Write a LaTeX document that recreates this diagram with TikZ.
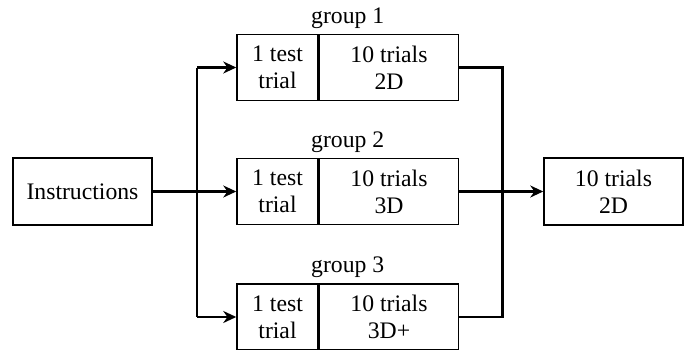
\documentclass[tikz,border=0pt]{standalone}
\usepackage{fontspec}
\setmainfont{Liberation Serif}
\usetikzlibrary{positioning,calc,arrows.meta}

\begin{document}
\begin{tikzpicture}[x=1pt,y=-1pt,font=\fontsize{23.7}{27}\selectfont,
		box/.style={draw=black,line width=1.5pt,align=center,minimum height=66pt,inner sep=0pt},
		link/.style={line width=2.5pt},
		arr/.style={link,-{Stealth[length=13pt,width=12pt]}},
		grp/.style={inner sep=0pt,above=5pt}]
		\useasboundingbox (0,0) rectangle (686,349);
		\node[box,minimum width=139pt,minimum height=67pt] (instr) at (82.5,191.5) {Instructions};
		
		\node[box,minimum width=81pt] (te1) at (277.5,67.5) {1 test\\trial};
		\node[box,minimum width=139pt,anchor=west] (tr1) at (te1.east) {10 trials\\2D};
		\node[box,minimum width=81pt] (te2) at (277.5,191.5) {1 test\\trial};
		\node[box,minimum width=139pt,anchor=west] (tr2) at (te2.east) {10 trials\\3D};
		\node[box,minimum width=81pt] (te3) at (277.5,317) {1 test\\trial};
		\node[box,minimum width=139pt,anchor=west] (tr3) at (te3.east) {10 trials\\3D+};
		
		\coordinate (g1) at ($(te1.north west)!0.5!(tr1.north east)$);
		\coordinate (g2) at ($(te2.north west)!0.5!(tr2.north east)$);
		\coordinate (g3) at ($(te3.north west)!0.5!(tr3.north east)$);
		\node[grp] (lab1) at (g1) {group 1};
		\node[grp] (lab2) at (g2) {group 2};
		\node[grp] (lab3) at (g3) {group 3};
		
		\node[box,minimum width=139pt,minimum height=67pt] (final) at (613.5,191.5) {10 trials\\2D};
		
		% left fork
		\coordinate[shift={(44,0)}] (ls) at (instr.east);
		\draw[link] (ls |- te1.west)--(ls |- te3.west);
		\draw[arr] (instr.east)--(te2.west);
		\draw[arr] (ls |- te1.west)--(te1.west);
		\draw[arr] (ls |- te3.west)--(te3.west);
		
		% right join
		\coordinate[shift={(43,0)}] (rs) at (tr2.east);
		\draw[link] (tr1.east)-|(rs |- tr3.east)--(tr3.east);
		\draw[arr] (tr2.east)--(final.west);
	\end{tikzpicture}
\end{document}
